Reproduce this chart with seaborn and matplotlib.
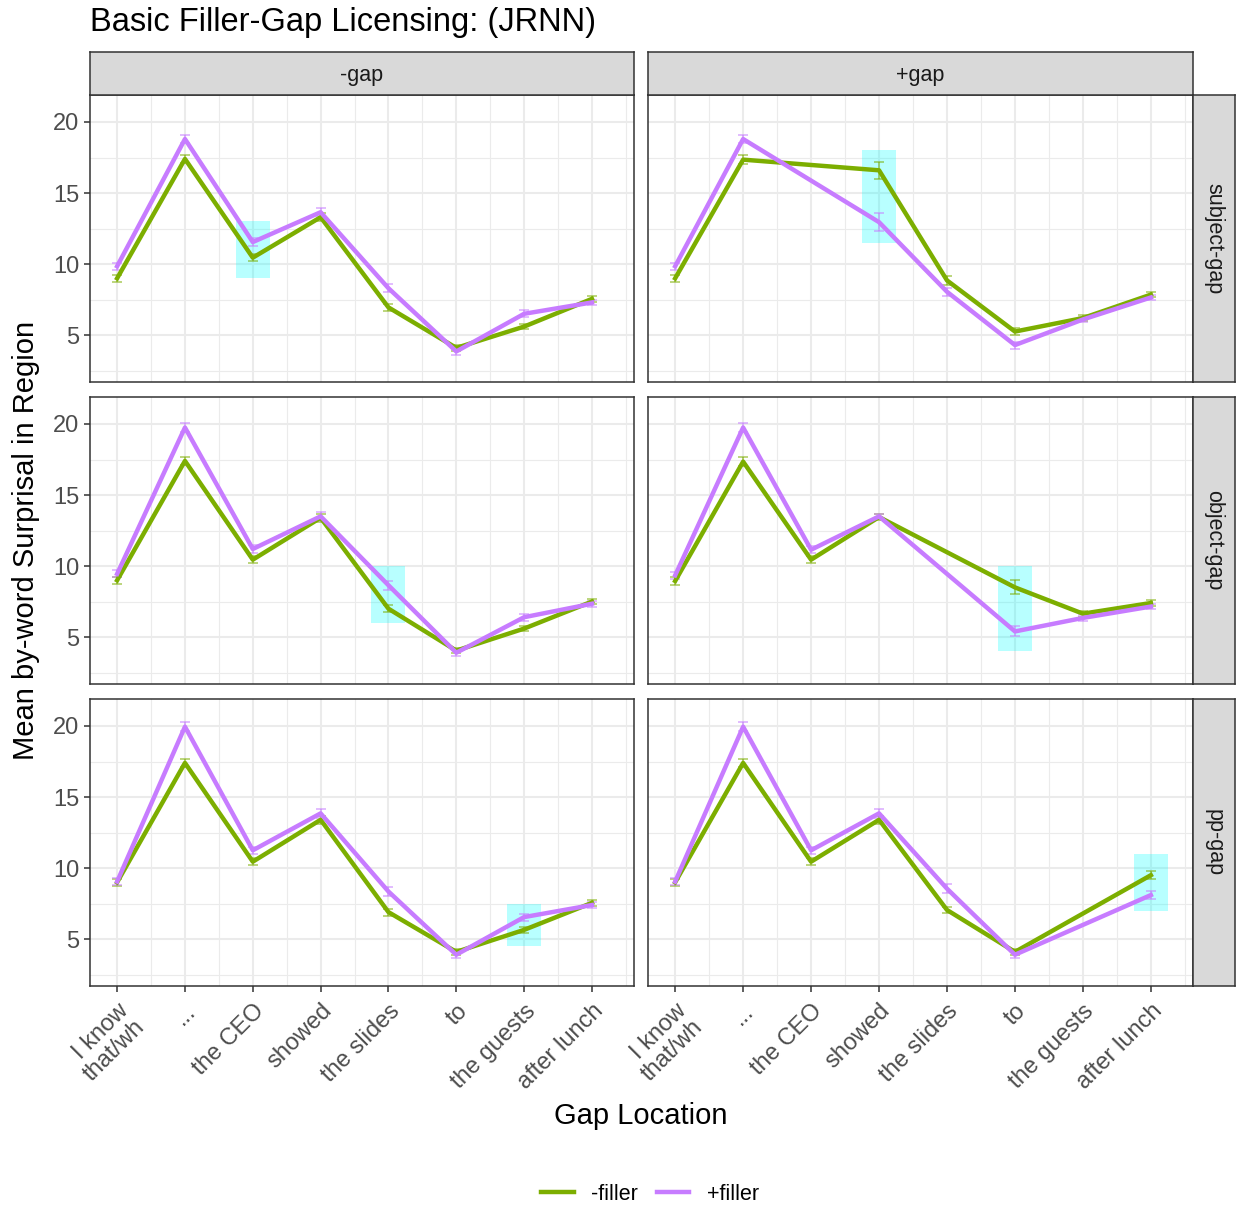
import numpy as np
import pandas as pd
import seaborn as sns
import matplotlib.pyplot as plt
from matplotlib.lines import Line2D

nan = np.nan

# regions along the sentence
regions = ["I know\nthat/wh", "...", "the CEO", "showed", "the slides", "to", "the guests", "after lunch"]
gap_cols = ["-gap", "+gap"]
gap_rows = ["subject-gap", "object-gap", "pp-gap"]
fillers = ["-filler", "+filler"]

# mean surprisal per region, NaN = gapped region
subj_nogap_nofill = [9.0, 17.4, 10.45, 13.3, 6.95, 4.1, 5.6, 7.55]
subj_nogap_fill = [9.85, 18.8, 11.55, 13.65, 8.3, 3.85, 6.5, 7.3]
subj_gap_nofill = [9.0, 17.35, nan, 16.6, 8.85, 5.25, 6.2, 7.85]
subj_gap_fill = [9.85, 18.8, nan, 12.95, 8.05, 4.3, 6.1, 7.65]
obj_nogap_nofill = [9.0, 17.4, 10.45, 13.4, 7.0, 4.05, 5.6, 7.5]
obj_nogap_fill = [9.45, 19.75, 11.2, 13.5, 8.65, 3.9, 6.4, 7.35]
obj_gap_nofill = [8.95, 17.35, 10.45, 13.45, nan, 8.5, 6.65, 7.4]
obj_gap_fill = [9.35, 19.75, 11.15, 13.5, nan, 5.4, 6.35, 7.15]
pp_nogap_nofill = [9.0, 17.4, 10.45, 13.4, 6.9, 4.1, 5.65, 7.55]
pp_nogap_fill = [9.05, 19.95, 11.25, 13.85, 8.35, 3.9, 6.55, 7.4]
pp_gap_nofill = [9.0, 17.4, 10.45, 13.4, 7.05, 4.1, nan, 9.5]
pp_gap_fill = [9.05, 19.95, 11.25, 13.85, 8.55, 3.9, nan, 8.1]

# standard errors
err_nofill = [0.25, 0.3, 0.25, 0.3, 0.25, 0.2, 0.2, 0.2]
err_fill = [0.25, 0.3, 0.25, 0.3, 0.3, 0.25, 0.25, 0.2]
subj_gap_err_nofill = [0.25, 0.3, nan, 0.6, 0.3, 0.25, 0.2, 0.2]
subj_gap_err_fill = [0.25, 0.3, nan, 0.65, 0.3, 0.25, 0.2, 0.2]
obj_gap_err_nofill = [0.25, 0.3, 0.25, 0.2, nan, 0.5, 0.2, 0.2]
obj_gap_err_fill = [0.25, 0.3, 0.25, 0.2, nan, 0.35, 0.2, 0.2]
pp_gap_err_nofill = [0.25, 0.3, 0.25, 0.3, 0.2, 0.2, nan, 0.3]
pp_gap_err_fill = [0.25, 0.3, 0.25, 0.3, 0.3, 0.2, nan, 0.3]

# highlighted critical region per panel (row-major order)
hl_region = [2, 3, 4, 5, 6, 7]
hl_low = [9.0, 11.5, 6.0, 4.0, 4.5, 7.0]
hl_high = [13.0, 18.0, 10.0, 10.0, 7.5, 11.0]

series = {
    ("subject-gap", "-gap"): (subj_nogap_nofill, subj_nogap_fill, err_nofill, err_fill),
    ("subject-gap", "+gap"): (subj_gap_nofill, subj_gap_fill, subj_gap_err_nofill, subj_gap_err_fill),
    ("object-gap", "-gap"): (obj_nogap_nofill, obj_nogap_fill, err_nofill, err_fill),
    ("object-gap", "+gap"): (obj_gap_nofill, obj_gap_fill, obj_gap_err_nofill, obj_gap_err_fill),
    ("pp-gap", "-gap"): (pp_nogap_nofill, pp_nogap_fill, err_nofill, err_fill),
    ("pp-gap", "+gap"): (pp_gap_nofill, pp_gap_fill, pp_gap_err_nofill, pp_gap_err_fill),
}

rows = []
for (gr, gc), (m0, m1, e0, e1) in series.items():
    for fill, m, e in [("-filler", m0, e0), ("+filler", m1, e1)]:
        for i in range(len(regions)):
            rows.append({"row": gr, "col": gc, "filler": fill, "pos": i,
                         "surprisal": m[i], "err": e[i]})
df = pd.DataFrame(rows).dropna()

palette = {"-filler": "#7CAE00", "+filler": "#C77CFF"}

plt.rcParams['font.family'] = ['Liberation Sans', 'DejaVu Sans']
W, H = 1238, 1207
fig = plt.figure(figsize=(W / 100, H / 100), dpi=100)

col_x = [(90, 634), (648, 1193)]
row_y = [(95, 382), (397, 684), (699, 986)]
border = "#333333"

for r, gr in enumerate(gap_rows):
    for c, gc in enumerate(gap_cols):
        x0, x1 = col_x[c]
        y0, y1 = row_y[r]
        ax = fig.add_axes([x0 / W, 1 - y1 / H, (x1 - x0) / W, (y1 - y0) / H])
        k = r * 2 + c
        ax.fill_between([hl_region[k] - 0.25, hl_region[k] + 0.25], hl_low[k], hl_high[k],
                        color="#00FFFF", alpha=0.28, lw=0, zorder=1)
        sub = df[(df["row"] == gr) & (df["col"] == gc)]
        sns.lineplot(data=sub, x="pos", y="surprisal", hue="filler", hue_order=fillers,
                     palette=palette, lw=3.2, legend=False, ax=ax, zorder=3, estimator=None)
        for f in fillers:
            s = sub[sub["filler"] == f]
            ax.errorbar(s["pos"], s["surprisal"], yerr=s["err"], fmt="none",
                        ecolor=palette[f], alpha=0.6, elinewidth=1.2, capsize=3.5,
                        capthick=1.2, zorder=2)
        ax.set_xlim(-0.4, 7.62)
        ax.set_ylim(1.7, 21.9)
        ax.set_xticks(range(len(regions)))
        ax.set_xticks(np.arange(0.5, 8, 1), minor=True)
        ax.set_yticks([5, 10, 15, 20])
        ax.set_yticks([2.5, 7.5, 12.5, 17.5], minor=True)
        ax.grid(which="major", color="#EBEBEB", lw=1.5, zorder=0)
        ax.grid(which="minor", color="#EBEBEB", lw=0.8, zorder=0)
        ax.set_axisbelow(True)
        for sp in ax.spines.values():
            sp.set_color(border)
            sp.set_linewidth(1.1)
        ax.tick_params(which="minor", length=0)
        ax.tick_params(which="major", color=border, length=4, width=1.1,
                       labelsize=17, labelcolor="#4D4D4D")
        ax.tick_params(axis="x", pad=6)
        ax.set_xlabel("")
        ax.set_ylabel("")
        if c == 0:
            ax.set_yticklabels(["5", "10", "15", "20"])
        else:
            ax.tick_params(axis="y", length=0, labelleft=False)
        if r == 2:
            ax.set_xticklabels(regions, rotation=45, ha="right", va="top",
                               rotation_mode="anchor", multialignment="right",
                               linespacing=1.05)
        else:
            ax.tick_params(axis="x", length=0, labelbottom=False)

        # facet strips
        if r == 0:
            sax = fig.add_axes([x0 / W, 1 - y0 / H, (x1 - x0) / W, 43 / H])
            sax.set_facecolor("#D9D9D9")
            sax.set_xticks([])
            sax.set_yticks([])
            for sp in sax.spines.values():
                sp.set_color(border)
                sp.set_linewidth(1.1)
            sax.text(0.5, 0.45, gc, ha="center", va="center", fontsize=15.5,
                     color="#1A1A1A", transform=sax.transAxes)
        if c == 1:
            sax = fig.add_axes([x1 / W, 1 - y1 / H, 42 / W, (y1 - y0) / H])
            sax.set_facecolor("#D9D9D9")
            sax.set_xticks([])
            sax.set_yticks([])
            for sp in sax.spines.values():
                sp.set_color(border)
                sp.set_linewidth(1.1)
            sax.text(0.5, 0.5, gr, ha="center", va="center", fontsize=15.5, rotation=-90,
                     color="#1A1A1A", transform=sax.transAxes)

fig.text(90 / W, 1 - 22 / H, "Basic Filler-Gap Licensing: (JRNN)", ha="left", va="center",
         fontsize=23.5, color="black")
fig.text(641 / W, 1 - 1116 / H, "Gap Location", ha="center", va="center", fontsize=21)
fig.text(26 / W, 1 - 540 / H, "Mean by-word Surprisal in Region", ha="center", va="center",
         fontsize=21, rotation=90)

handles = [Line2D([0], [0], color=palette[f], lw=3.2) for f in fillers]
fig.legend(handles, fillers, loc="center", bbox_to_anchor=(650 / W, 1 - 1194 / H), ncol=2,
           frameon=False, fontsize=15.5, handlelength=1.5, columnspacing=0.9, handletextpad=0.8)

plt.savefig("out.png", dpi=100)
